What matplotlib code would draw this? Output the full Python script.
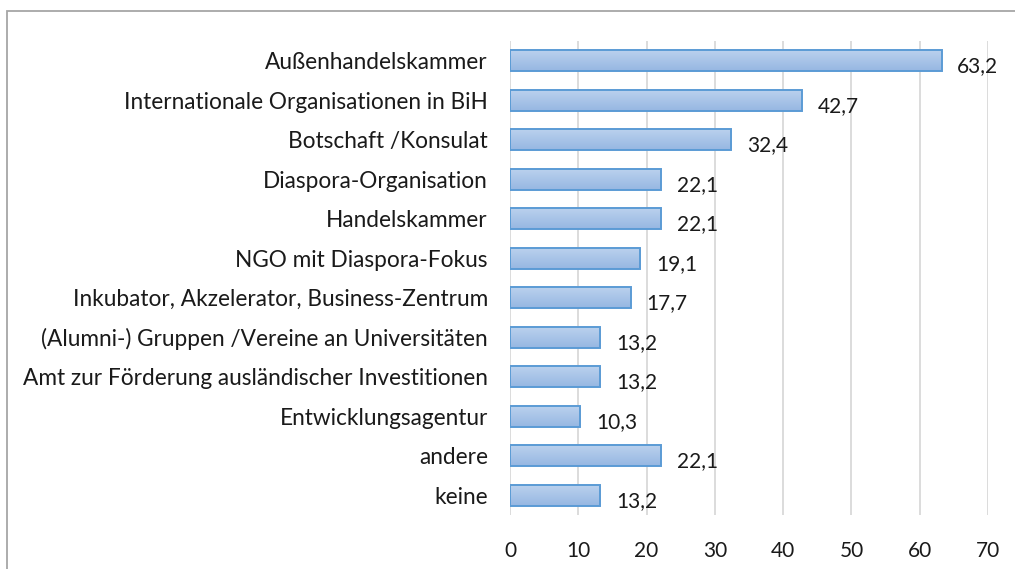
import matplotlib
matplotlib.use("Agg")
import matplotlib.pyplot as plt
import numpy as np
from matplotlib.patches import Rectangle
from matplotlib.colors import LinearSegmentedColormap

categories = [
    "Außenhandelskammer",
    "Internationale Organisationen in BiH",
    "Botschaft /Konsulat",
    "Diaspora-Organisation",
    "Handelskammer",
    "NGO mit Diaspora-Fokus",
    "Inkubator, Akzelerator, Business-Zentrum",
    "(Alumni-) Gruppen /Vereine an Universitäten",
    "Amt zur Förderung ausländischer Investitionen",
    "Entwicklungsagentur",
    "andere",
    "keine",
]
values = [63.2, 42.7, 32.4, 22.1, 22.1, 19.1, 17.7, 13.2, 13.2, 10.3, 22.1, 13.2]
value_labels = ["63,2", "42,7", "32,4", "22,1", "22,1", "19,1", "17,7", "13,2", "13,2", "10,3", "22,1", "13,2"]
xticks = [0, 10, 20, 30, 40, 50, 60, 70]

plt.rcParams['font.family'] = ['Lato', 'DejaVu Sans']

W, H = 1015, 569
fig = plt.figure(figsize=(W / 100, H / 100), dpi=100)
fig.patch.set_facecolor("white")

# outer frame (chart area border)
fig.add_artist(Rectangle((7 / W, -0.05), 1.2, 1 - 11 / H + 0.05, transform=fig.transFigure,
                         fill=False, edgecolor="#a6a6a6", linewidth=1.3))

left, right = 510 / W, 988 / W
top, bottom = 1 - 41 / H, 1 - 515 / H
ax = fig.add_axes([left, bottom, right - left, top - bottom])

n = len(categories)
y = np.arange(n)
bar_h = 0.54
bars = ax.barh(y, values, height=bar_h, color="#a8c4e8", edgecolor="none", zorder=2)

cmap = LinearSegmentedColormap.from_list("g", ["#bcd2ee", "#96b7e2"])
grad = np.linspace(0, 1, 64).reshape(-1, 1)
for b in bars:
    x0, y0 = b.get_x(), b.get_y()
    w, h = b.get_width(), b.get_height()
    im = ax.imshow(grad, cmap=cmap, aspect="auto", extent=(x0, x0 + w, y0 + h, y0),
                   origin="upper", zorder=2.5, interpolation="bicubic")
    im.set_clip_path(b)

ax.barh(y, values, height=bar_h, color="none", edgecolor="#5b9bd5", linewidth=1.4, zorder=3)

ax.set_xlim(0, 70)
ax.set_ylim(n - 0.5, -0.5)
ax.set_xticks(xticks)
ax.set_xticklabels([str(t) for t in xticks], fontsize=15, color="#1a1a1a")
ax.set_yticks(y)
ax.set_yticklabels(categories, fontsize=16.3, color="#1a1a1a")
ax.tick_params(axis="both", length=0)
ax.tick_params(axis="x", pad=19)
ax.tick_params(axis="y", pad=16)
for s in ax.spines.values():
    s.set_visible(False)
ax.grid(axis="x", color="#d9d9d9", linewidth=1.3, zorder=0)
ax.set_axisbelow(True)

for yi, v, lab in zip(y, values, value_labels):
    ax.text(v + 2.3, yi + 0.14, lab, va="center", ha="left", fontsize=15, color="#1a1a1a", zorder=4)

fig.savefig("out.png", dpi=100, facecolor="white")
